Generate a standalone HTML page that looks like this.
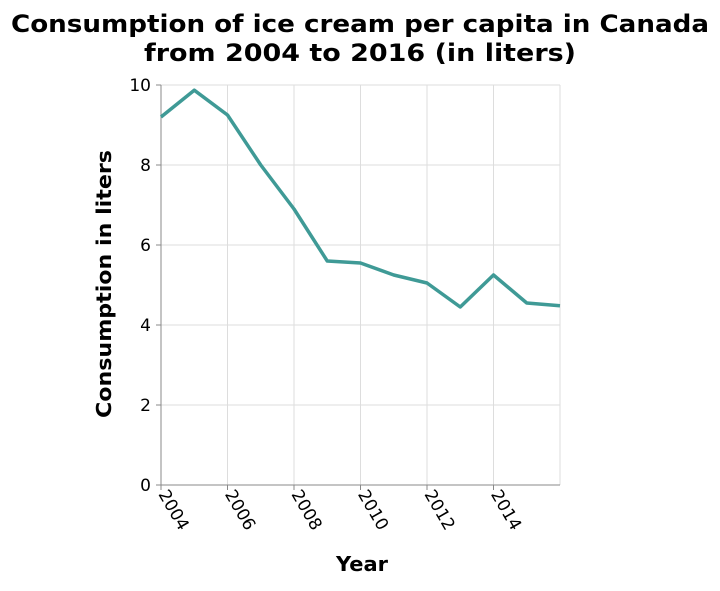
<!DOCTYPE html>
<html><head><meta charset="utf-8"><style>
body{margin:0;background:#fff;}
svg text{font-family:"DejaVu Sans","Liberation Sans",sans-serif;}
</style></head><body>
<svg id="chart" width="720" height="586" xmlns="http://www.w3.org/2000/svg">
<text x="360" y="32" text-anchor="middle" font-size="24" font-weight="bold" fill="#000" textLength="698" lengthAdjust="spacingAndGlyphs">Consumption of ice cream per capita in Canada</text>
<text x="360" y="61" text-anchor="middle" font-size="24" font-weight="bold" fill="#000" textLength="432" lengthAdjust="spacingAndGlyphs">from 2004 to 2016 (in liters)</text>
<g id="grid"></g>
<g id="axes"></g>
<path id="line" fill="none" stroke="#3f9a96" stroke-width="3.5" stroke-linejoin="round"/>
<text x="111" y="284" text-anchor="middle" font-size="20" font-weight="bold" transform="rotate(-90 111 284)" textLength="268" lengthAdjust="spacingAndGlyphs">Consumption in liters</text>
<text x="362" y="571" text-anchor="middle" font-size="20" font-weight="bold" textLength="52" lengthAdjust="spacingAndGlyphs">Year</text>
</svg>
<script>
const years=[2004,2005,2006,2007,2008,2009,2010,2011,2012,2013,2014,2015,2016];
const values=[9.2,9.87,9.25,8.0,6.9,5.6,5.55,5.25,5.05,4.45,5.25,4.55,4.48];
const xTicks=[2004,2006,2008,2010,2012,2014];
const yTicks=[0,2,4,6,8,10];
const NS="http://www.w3.org/2000/svg";
const x0=161,x1=560,y0=485,y1=85;
const xs=v=>x0+(v-2004)/(2016-2004)*(x1-x0);
const ys=v=>y0-(v/10)*(y0-y1);
const grid=document.getElementById('grid'),axes=document.getElementById('axes');
function mk(t,a,p){const e=document.createElementNS(NS,t);for(const k in a)e.setAttribute(k,a[k]);p.appendChild(e);return e;}
yTicks.forEach(v=>{
 const l=mk('line',{x1:x0,x2:x1,y1:ys(v),y2:ys(v),stroke:'#ddd','stroke-width':1},grid);
 
 
 mk('line',{x1:x0-5,x2:x0,y1:ys(v),y2:ys(v),stroke:'#888'},axes);
 const t=mk('text',{x:x0-10,y:ys(v)+6,'text-anchor':'end','font-size':17},axes);
 t.textContent=v;
 
 
});
const rg=mk('line',{x1:x1,x2:x1,y1:y1,y2:y0,stroke:'#ddd','stroke-width':1},grid);


xTicks.forEach(v=>{
 const l=mk('line',{x1:xs(v),x2:xs(v),y1:y1,y2:y0,stroke:'#ddd','stroke-width':1},grid);
 
 
 mk('line',{x1:xs(v),x2:xs(v),y1:y0,y2:y0+5,stroke:'#888'},axes);
 const X=xs(v)-3,Y=y0+9;
 const t=mk('text',{x:X,y:Y,'font-size':17,transform:`rotate(60 ${X} ${Y})`},axes);
 t.textContent=v;
 
 
});
mk('line',{x1:x0,x2:x1,y1:y0,y2:y0,stroke:'#888'},axes);
mk('line',{x1:x0,x2:x0,y1:y1,y2:y0,stroke:'#888'},axes);
document.getElementById('line').setAttribute('d',years.map((y,i)=>(i?'L':'M')+xs(y)+','+ys(values[i])).join(''));
</script>
</body></html>
